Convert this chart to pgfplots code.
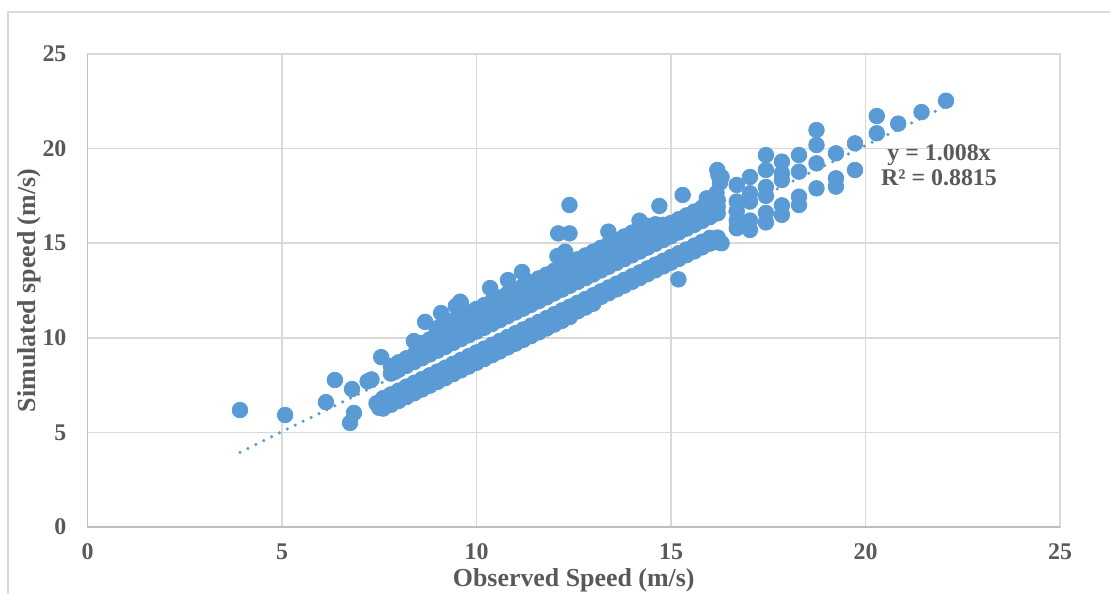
\documentclass[border=0pt]{standalone}
\usepackage{pgfplots}
\pgfplotsset{compat=1.18}
\usepackage{fontspec}
\setmainfont{Liberation Serif}
\definecolor{pt}{HTML}{5B9BD5}
\definecolor{txt}{HTML}{595959}
\definecolor{grd}{HTML}{D9D9D9}
\definecolor{axl}{HTML}{BFBFBF}
\begin{document}
\begin{tikzpicture}
\begin{axis}[
  scale only axis, width=486.25bp, height=236.5bp,
  xmin=0, xmax=25, ymin=0, ymax=25,
  xtick={0,5,10,15,20,25}, ytick={0,5,10,15,20,25},
  major tick length=0pt,
  grid=major, major grid style={grd, line width=0.75bp},
  axis line style={grd, line width=0.75bp},
  /pgf/number format/assume math mode=true,
  tick label style={font=\fontsize{12}{14}\selectfont\bfseries, text=txt},
  xticklabel style={yshift=-5bp},
  yticklabel style={xshift=-7bp},
  xlabel={Observed Speed (m/s)}, ylabel={Simulated speed (m/s)},
  label style={font=\fontsize{13}{15}\selectfont\bfseries, text=txt},
  xlabel style={at={(axis description cs:0.5,-0.1121)}, anchor=center},
  ylabel style={at={(axis description cs:-0.0602,0.5)}, anchor=center, rotate=0},
  clip=false,
]
\draw[axl, line width=0.75bp] (rel axis cs:0,1) -- (rel axis cs:0,0) -- (rel axis cs:1,0);
\draw[grd, line width=0.9bp] (rel axis cs:-0.08175,-0.2) -- (rel axis cs:-0.08175,1.08879) -- (rel axis cs:1.1,1.08879);
\coordinate (bl) at (rel axis cs:-0.08997,-0.13953);
\coordinate (tr) at (rel axis cs:1.05141,1.11416);
\addplot[only marks, mark=*, mark size=3.9bp, mark options={draw=pt, fill=pt}] coordinates {
(3.92,6.18)(5.08,5.92)(6.13,6.6)(6.36,7.77)(6.8,7.29)(6.75,5.5)(6.85,6.03)(7.2,7.7)(7.3,7.8)(7.55,8.98)
(7.43,6.54)(7.5,6.3)(7.65,6.45)(7.7,6.6)(7.9,8.2)
(7.6,6.81)(7.6,6.51)(7.6,6.26)
(7.8,7.01)(7.8,6.71)(7.8,6.46)
(8.0,7.21)(8.0,6.91)(8.0,6.66)
(8.2,7.42)(8.2,7.12)(8.2,6.87)
(8.4,7.62)(8.4,7.32)(8.4,7.07)
(8.6,7.82)(8.6,7.52)(8.6,7.27)
(8.8,8.02)(8.8,7.72)(8.8,7.47)
(9.0,8.22)(9.0,7.92)(9.0,7.67)
(9.2,8.42)(9.2,8.12)(9.2,7.87)
(9.4,8.63)(9.4,8.33)(9.4,8.08)
(9.6,8.83)(9.6,8.53)(9.6,8.28)
(9.8,9.03)(9.8,8.73)(9.8,8.48)
(10.0,9.23)(10.0,8.93)(10.0,8.68)
(10.2,9.43)(10.2,9.13)(10.2,8.88)
(10.4,9.63)(10.4,9.33)(10.4,9.08)
(10.6,9.83)(10.6,9.53)(10.6,9.28)
(10.8,10.04)(10.8,9.74)(10.8,9.49)
(11.0,10.24)(11.0,9.94)(11.0,9.69)
(11.2,10.44)(11.2,10.14)(11.2,9.89)
(11.4,10.64)(11.4,10.34)(11.4,10.09)
(11.6,10.84)(11.6,10.54)(11.6,10.29)
(11.8,11.04)(11.8,10.74)(11.8,10.49)
(12.0,11.25)(12.0,10.95)(12.0,10.70)
(12.2,11.45)(12.2,11.15)(12.2,10.90)
(12.4,11.65)(12.4,11.35)(12.4,11.10)
(12.6,11.85)(12.6,11.55)(12.6,11.40)
(12.8,12.05)(12.8,11.75)(12.8,11.60)
(13.0,12.25)(13.0,11.95)(13.0,11.80)
(13.2,12.46)(13.2,12.16)
(13.4,12.66)(13.4,12.36)
(13.6,12.86)(13.6,12.56)
(13.8,13.06)(13.8,12.76)
(14.0,13.26)(14.0,12.96)
(14.2,13.46)(14.2,13.16)
(14.4,13.67)(14.4,13.37)
(14.6,13.87)(14.6,13.57)
(14.8,14.07)(14.8,13.77)
(15.0,14.27)(15.0,13.97)
(15.2,14.47)(15.2,14.17)
(15.4,14.67)(15.4,14.37)
(15.6,14.87)(15.6,14.57)
(15.8,15.08)(15.8,14.78)
(16.0,15.28)(16.0,14.98)
(16.2,15.30)(16.2,15.05)
(7.8,8.11)(7.8,8.51)
(8.0,8.31)(8.0,8.71)
(8.2,8.52)(8.2,8.92)
(8.4,8.72)(8.4,9.12)
(8.6,8.92)(8.6,9.32)(8.6,9.72)
(8.8,9.12)(8.8,9.52)(8.8,9.92)
(9.0,9.32)(9.0,9.72)(9.0,10.12)(9.0,10.52)
(9.2,9.52)(9.2,9.92)(9.2,10.32)(9.2,10.72)
(9.4,9.73)(9.4,10.13)(9.4,10.53)(9.4,10.93)
(9.6,9.93)(9.6,10.33)(9.6,10.73)(9.6,11.13)
(9.8,10.13)(9.8,10.53)(9.8,10.93)(9.8,11.33)
(10.0,10.33)(10.0,10.73)(10.0,11.13)(10.0,11.53)
(10.2,10.53)(10.2,10.93)(10.2,11.33)(10.2,11.73)
(10.4,10.73)(10.4,11.13)(10.4,11.53)(10.4,11.93)
(10.6,10.93)(10.6,11.33)(10.6,11.73)(10.6,12.13)
(10.8,11.14)(10.8,11.54)(10.8,11.94)(10.8,12.34)
(11.0,11.34)(11.0,11.74)(11.0,12.14)(11.0,12.54)
(11.2,11.54)(11.2,11.94)(11.2,12.34)(11.2,12.74)
(11.4,11.74)(11.4,12.14)(11.4,12.54)(11.4,12.94)
(11.6,11.94)(11.6,12.34)(11.6,12.74)(11.6,13.14)
(11.8,12.14)(11.8,12.54)(11.8,12.94)(11.8,13.34)
(12.0,12.35)(12.0,12.75)(12.0,13.15)(12.0,13.55)
(12.2,12.55)(12.2,12.95)(12.2,13.35)(12.2,13.75)
(12.4,12.75)(12.4,13.15)(12.4,13.55)(12.4,13.95)
(12.6,12.95)(12.6,13.35)(12.6,13.75)(12.6,14.15)
(12.8,13.15)(12.8,13.55)(12.8,13.95)(12.8,14.35)
(13.0,13.35)(13.0,13.75)(13.0,14.15)(13.0,14.55)
(13.2,13.56)(13.2,13.96)(13.2,14.36)(13.2,14.76)
(13.4,13.76)(13.4,14.16)(13.4,14.56)(13.4,14.96)
(13.6,13.96)(13.6,14.36)(13.6,14.76)(13.6,15.16)
(13.8,14.16)(13.8,14.56)(13.8,14.96)(13.8,15.36)
(14.0,14.36)(14.0,14.76)(14.0,15.16)(14.0,15.56)
(14.2,14.56)(14.2,14.96)(14.2,15.36)(14.2,15.76)
(14.4,14.77)(14.4,15.17)(14.4,15.57)(14.4,15.92)
(14.6,14.97)(14.6,15.37)(14.6,15.77)(14.6,16.00)
(14.8,15.17)(14.8,15.57)(14.8,15.97)
(15.0,15.37)(15.0,15.72)(15.0,16.07)
(15.2,15.57)(15.2,15.92)(15.2,16.27)
(15.4,15.77)(15.4,16.12)(15.4,16.47)
(15.6,15.97)(15.6,16.32)(15.6,16.67)
(15.8,16.18)(15.8,16.53)(15.8,16.88)
(16.0,16.38)(16.0,16.73)(16.0,17.08)
(16.2,16.58)(16.2,16.93)(16.2,17.28)
(8.39,9.83)(8.68,10.84)(8.98,10.41)(9.09,11.31)(9.47,11.68)(9.6,11.84)(9.58,11.91)
(10.35,12.63)(10.81,13.05)(11.17,13.48)(12.39,17.02)(12.1,15.52)(12.39,15.52)(12.08,14.32)(12.28,14.55)
(13.39,15.61)(14.19,16.19)(14.7,16.97)(15.3,17.55)(15.92,17.37)(16.22,18.6)(15.19,13.09)
(16.19,18.87)(16.3,18.5)(16.26,18.2)(16.17,17.65)(16.69,18.08)(16.69,17.2)(16.69,16.7)
(17.03,18.5)(17.03,17.64)(17.03,17.2)(17.44,19.66)(17.44,18.87)(17.44,17.97)(17.44,17.5)
(17.85,19.31)(17.85,18.7)(17.85,18.34)(18.29,19.66)(18.29,18.78)
(18.74,20.98)(18.74,20.19)(18.74,19.22)(19.24,19.75)(19.73,20.28)
(20.29,21.72)(20.29,20.81)(20.84,21.32)(21.44,21.93)(22.07,22.53)
(16.3,15.0)(16.69,15.79)(16.69,16.2)(17.03,15.7)(17.03,16.2)(17.44,16.1)(17.44,16.6)
(17.85,16.5)(17.85,17.0)(18.29,17.02)(18.29,17.46)(18.74,17.9)(19.24,17.99)(19.24,18.43)(19.73,18.87)
};
\addplot[pt, line width=1.75bp, line cap=round, dash pattern=on 0bp off 4.4bp] coordinates {(3.92,3.95) (22.07,22.25)};
\node[font=\fontsize{12}{12.5}\selectfont\bfseries, text=txt, align=center] at (axis cs:21.89,19.1) {y = 1.008x\\R² = 0.8815};
\end{axis}
\pgfresetboundingbox
\useasboundingbox (bl) rectangle (tr);
\end{tikzpicture}
\end{document}
